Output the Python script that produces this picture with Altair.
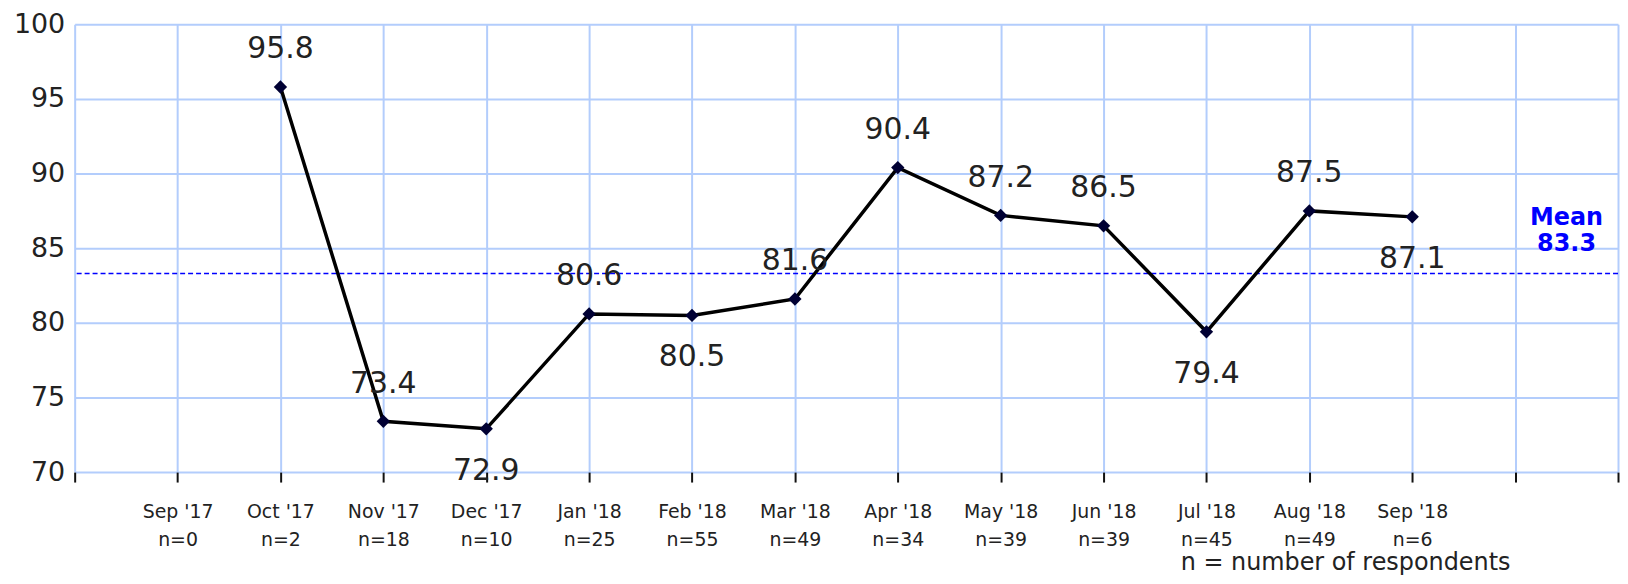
import json
import altair as alt
import pandas as pd

months = ["Sep '17", "Oct '17", "Nov '17", "Dec '17", "Jan '18", "Feb '18", "Mar '18",
          "Apr '18", "May '18", "Jun '18", "Jul '18", "Aug '18", "Sep '18"]
respondents = [0, 2, 18, 10, 25, 55, 49, 34, 39, 39, 45, 49, 6]
scores = [None, 95.8, 73.4, 72.9, 80.6, 80.5, 81.6, 90.4, 87.2, 86.5, 79.4, 87.5, 87.1]
below_labels = ["Dec '17", "Feb '18", "Jul '18", "Sep '18"]
mean_value = 83.3

FONT = "DejaVu Sans"
GRID = "#b3cdfc"

df = pd.DataFrame({
    "pos": list(range(1, len(months) + 1)),
    "month": months,
    "n": respondents,
    "score": scores,
})
df["label"] = df["score"].map(lambda v: "" if pd.isna(v) else f"{v:.1f}")
df["below"] = df["month"].isin(below_labels)
pts = df.dropna(subset=["score"])

tick_labels = [[m, f"n={k}"] for m, k in zip(months, respondents)]
label_expr = (f"datum.value >= 1 && datum.value <= {len(months)} ? "
              f"{json.dumps(tick_labels)}[datum.value - 1] : ''")

x_enc = alt.X("pos:Q",
              scale=alt.Scale(domain=[0, 15], nice=False, zero=False),
              axis=alt.Axis(values=list(range(16)), labelExpr=label_expr,
                            grid=True, gridColor=GRID, gridWidth=2,
                            domain=False, ticks=True, tickColor="#111",
                            tickWidth=2, tickSize=10,
                            labelFont=FONT, labelFontSize=19, labelColor="#222",
                            labelBaseline="top", labelPadding=21,
                            labelLineHeight=28, labelFlush=False,
                            title="n = number of respondents",
                            titleFont=FONT, titleFontSize=24,
                            titleFontWeight="normal", titleColor="#222",
                            titleAnchor="start", titleAlign="left",
                            titleX=1111, titleY=98, titleBaseline="alphabetic"))
y_scale = alt.Scale(domain=[70, 100], nice=False, zero=False)
y_enc = alt.Y("score:Q", scale=y_scale,
              axis=alt.Axis(values=[70, 75, 80, 85, 90, 95, 100],
                            grid=True, gridColor=GRID, gridWidth=2,
                            domain=False, ticks=False,
                            labelFont=FONT, labelFontSize=27, labelColor="#222",
                            labelPadding=10, labelFlush=False, title=None))

base = alt.Chart(pts)

line = base.mark_line(color="#000000", strokeWidth=3.5).encode(x=x_enc, y=y_enc)
points = base.mark_point(shape="diamond", filled=True, size=180,
                         color="#000033", opacity=1).encode(x="pos:Q", y="score:Q")

labels_above = base.transform_filter("!datum.below").mark_text(
    font=FONT, fontSize=30, color="#222", baseline="middle", dy=-38
).encode(x="pos:Q", y="score:Q", text="label:N")
labels_below = base.transform_filter("datum.below").mark_text(
    font=FONT, fontSize=30, color="#222", baseline="middle", dy=42
).encode(x="pos:Q", y="score:Q", text="label:N")

mean_df = pd.DataFrame({"mean": [mean_value], "xpos": [14.5],
                        "txt": [["Mean", f"{mean_value:.1f}"]]})
mean_rule = alt.Chart(mean_df).mark_rule(color="#0000ff", strokeWidth=1.5,
                                         strokeDash=[5, 3]).encode(
    y=alt.Y("mean:Q", scale=y_scale))
mean_text = alt.Chart(mean_df).mark_text(
    font=FONT, fontSize=24, fontWeight="bold", color="#0000ff",
    baseline="bottom", lineHeight=26, dy=-44
).encode(x="xpos:Q", y=alt.Y("mean:Q", scale=y_scale), text="txt")

chart = alt.layer(mean_rule, line, points, labels_above, labels_below, mean_text).properties(
    width=1551, height=450,
    autosize=alt.AutoSizeParams(type="none"),
    padding={"left": 67, "top": 15, "right": 2, "bottom": 103},
    background="white",
).configure_view(stroke=None)

chart.save("out.html", embed_options={"renderer": "svg", "actions": False})
